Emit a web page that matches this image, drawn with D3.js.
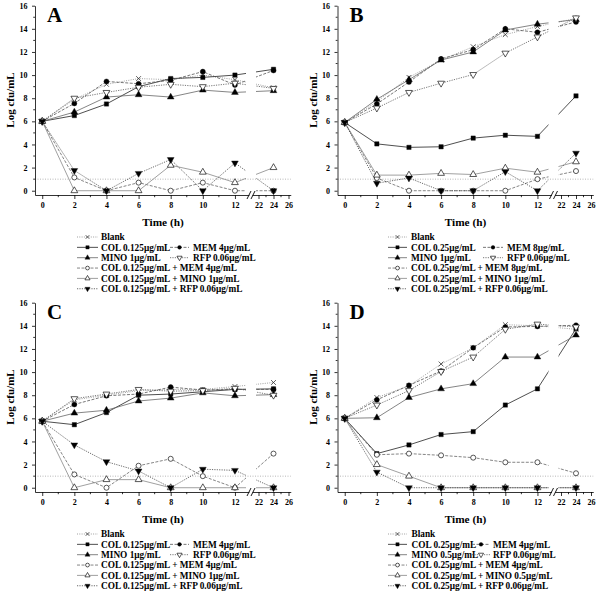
<!DOCTYPE html>
<html><head><meta charset="utf-8">
<script src="https://cdn.jsdelivr.net/npm/d3@7"></script>
<style>
body{margin:0;background:#fff}
svg{display:block}
text{font-family:"Liberation Serif","Times New Roman",serif;font-weight:bold;fill:#000}
</style>
</head><body>
<svg id="c" width="600" height="598"></svg>
<script>
// ---------- DATA ----------
const times = [0, 2, 4, 6, 8, 10, 12, 24];
const xTickValues = [0, 2, 4, 6, 8, 10, 12, 22, 24, 26];
const xMinorValues = [1, 3, 5, 7, 9, 11, 23, 25];
const yTickValues = [0, 2, 4, 6, 8, 10, 12, 14, 16];
const yMinorValues = [1, 3, 5, 7, 9, 11, 13, 15];
const detectionLimit = 1;
const seriesKeys = ["blank", "col", "mem", "mino", "rfp", "colmem", "colmino", "colrfp"];

// Panel A
const aBlank   = [6, 7.9, 9.2, 9.7, 9.6, 10.0, 9.6, 8.9];
const aCol     = [6, 6.5, 7.5, 9.0, 9.7, 9.8, 10.0, 10.5];
const aMem     = [6, 7.55, 9.45, 9.25, 9.55, 10.3, 9.15, 10.4];
const aMino    = [6, 6.8, 8.1, 8.3, 8.1, 8.7, 8.5, 8.65];
const aRfp     = [6, 8.0, 8.5, 8.95, 9.2, 9.0, 9.3, 8.85];
const aColMem  = [6, 1.15, 0, 0.7, 0, 0.7, 0, 0];
const aColMino = [6, 0, 0, 0, 2.2, 1.6, 0.7, 2.0];
const aColRfp  = [6, 1.75, 0, 1.5, 2.7, 0, 2.4, 0];
const aLabels = ["Blank", "COL 0.125μg/mL", "MEM 4μg/mL", "MINO 1μg/mL", "RFP 0.06μg/mL",
  "COL 0.125μg/mL + MEM 4μg/mL", "COL 0.125μg/mL + MINO 1μg/mL", "COL 0.125μg/mL + RFP 0.06μg/mL"];

// Panel B
const bBlank   = [5.9, 7.7, 9.8, 11.3, 12.45, 13.5, 14.2, 14.9];
const bCol     = [5.9, 4.05, 3.75, 3.8, 4.55, 4.8, 4.7, 8.2];
const bMem     = [5.9, 7.5, 9.4, 11.4, 12.2, 14.0, 13.7, 14.6];
const bMino    = [5.9, 7.9, 9.6, 11.3, 12.0, 13.9, 14.4, 14.8];
const bRfp     = [5.9, 7.15, 8.5, 9.3, 10.05, 11.9, 13.3, 14.95];
const bColMem  = [5.9, 1.1, 0, 0, 0, 0, 1.0, 1.7];
const bColMino = [5.9, 1.35, 1.35, 1.5, 1.4, 1.95, 1.6, 2.5];
const bColRfp  = [5.9, 0.65, 1.1, 0, 0, 1.65, 0, 3.25];
const bLabels = ["Blank", "COL 0.25μg/mL", "MEM 8μg/mL", "MINO 1μg/mL", "RFP 0.06μg/mL",
  "COL 0.25μg/mL + MEM 8μg/mL", "COL 0.25μg/mL + MINO 1μg/mL", "COL 0.25μg/mL + RFP 0.06μg/mL"];

// Panel C
const cBlank   = [5.75, 7.6, 8.0, 8.4, 8.5, 8.5, 8.75, 9.1];
const cCol     = [5.75, 5.45, 6.5, 8.0, 8.1, 8.3, 8.5, 8.55];
const cMem     = [5.75, 7.2, 7.95, 8.1, 8.7, 8.45, 8.5, 8.5];
const cMino    = [5.75, 6.45, 6.7, 7.5, 7.75, 8.2, 7.95, 8.05];
const cRfp     = [5.75, 7.7, 8.1, 8.5, 8.35, 8.4, 8.6, 8.0];
const cColMem  = [5.75, 1.15, 0, 1.9, 2.5, 1.0, 0, 2.95];
const cColMino = [5.75, 0, 0.7, 0.7, 0, 0, 0, 0];
const cColRfp  = [5.75, 3.7, 2.25, 1.45, 0, 1.6, 1.5, 0];
const cLabels = aLabels;

// Panel D
const dBlank   = [6, 7.8, 8.8, 10.7, 12.1, 14.1, 14.0, 13.7];
const dCol     = [6, 2.95, 3.7, 4.6, 4.85, 7.15, 8.55, 13.75];
const dMem     = [6, 7.6, 8.85, 10.1, 12.1, 13.9, 13.95, 14.05];
const dMino    = [6, 6.05, 7.8, 8.55, 9.0, 11.3, 11.3, 13.2];
const dRfp     = [6, 7.15, 8.4, 10.05, 11.3, 13.7, 14.15, 13.9];
const dColMem  = [6, 2.85, 2.95, 2.8, 2.6, 2.2, 2.2, 1.25];
const dColMino = [6, 2.0, 1.0, 0, 0, 0, 0, 0];
const dColRfp  = [6, 1.35, 0, 0, 0, 0, 0, 0];
const dLabels = ["Blank", "COL 0.25μg/mL", "MEM 4μg/mL", "MINO 0.5μg/mL", "RFP 0.06μg/mL",
  "COL 0.25μg/mL + MEM 4μg/mL", "COL 0.25μg/mL + MINO 0.5μg/mL", "COL 0.25μg/mL + RFP 0.06μg/mL"];

// ---------- STYLE ----------
const styles = {
  blank:   {dash: "1,1.3",   color: "#888", marker: "x",     fill: "none"},
  col:     {dash: null,      color: "#222", marker: "square", fill: "#000"},
  mem:     {dash: "3,1.5",   color: "#555", marker: "circle", fill: "#000"},
  mino:    {dash: null,      color: "#666", marker: "tri",    fill: "#000"},
  rfp:     {dash: "1.2,1.2", color: "#555", marker: "tridown",fill: "#fff"},
  colmem:  {dash: "3,1.5",   color: "#666", marker: "circle", fill: "#fff"},
  colmino: {dash: null,      color: "#888", marker: "tri",    fill: "#fff"},
  colrfp:  {dash: "1.2,1.2", color: "#444", marker: "tridown",fill: "#000"}
};

const panels = [
  {id: "A", ox: 0, oy: 0, series: [aBlank, aCol, aMem, aMino, aRfp, aColMem, aColMino, aColRfp], labels: aLabels,
   leg: {s1: [77, 98], t1: 101, s2: [170, 189], t2: 193}},
  {id: "B", ox: 302.5, oy: 0, series: [bBlank, bCol, bMem, bMino, bRfp, bColMem, bColMino, bColRfp], labels: bLabels,
   leg: {s1: [388, 407], t1: 411, s2: [483, 503], t2: 507}},
  {id: "C", ox: 0, oy: 297, series: [cBlank, cCol, cMem, cMino, cRfp, cColMem, cColMino, cColRfp], labels: cLabels,
   leg: {s1: [77, 98], t1: 101, s2: [170, 189], t2: 193}},
  {id: "D", ox: 302.5, oy: 297, series: [dBlank, dCol, dMem, dMino, dRfp, dColMem, dColMino, dColRfp], labels: dLabels,
   leg: {s1: [388, 407], t1: 411.5, s2: [472, 490], t2: 493}}
];

const svg = d3.select("#c");
const breakX = 251; // break position (local)

function drawMarker(g, type, cx, cy, fill, scale) {
  scale = scale || 1;
  const stroke = "#111";
  if (type === "x") {
    const r = 2.4 * scale;
    g.append("path").attr("d", `M${cx-r},${cy-r}L${cx+r},${cy+r}M${cx-r},${cy+r}L${cx+r},${cy-r}`)
      .attr("stroke", "#333").attr("stroke-width", 0.8).attr("fill", "none");
    return;
  }
  let sym, rot = 0, size;
  if (type === "square") { sym = d3.symbolSquare; size = 19 * scale * scale; }
  else if (type === "circle") { sym = d3.symbolCircle; size = 20 * scale * scale; }
  else if (type === "tri") { sym = d3.symbolTriangle; size = 20 * scale * scale; }
  else { sym = d3.symbolTriangle; size = 20 * scale * scale; rot = 180; }
  g.append("path").attr("d", d3.symbol().type(sym).size(size)())
    .attr("transform", `translate(${cx},${cy}) rotate(${rot})`)
    .attr("fill", fill).attr("stroke", stroke).attr("stroke-width", fill === "#fff" ? 0.7 : 0.4);
}

panels.forEach((p, pi) => {
  const g = svg.append("g").attr("transform", `translate(${p.ox},${p.oy})`);
  const x = d3.scaleLinear().domain([-0.45, 13, 21, 26.3]).range([35, breakX, breakX, 290.75]);
  const y = d3.scaleLinear().domain([-0.37, 16]).range([195, 5.7]);

  // clip for break gap
  const cid = "clip" + p.id;
  const cp = svg.append("defs").append("clipPath").attr("id", cid);
  cp.append("rect").attr("x", 0).attr("y", -10).attr("width", breakX - 5).attr("height", 220);
  cp.append("rect").attr("x", breakX + 5).attr("y", -10).attr("width", 60).attr("height", 220);

  // detection limit line
  g.append("line").attr("x1", 35).attr("x2", 290.75).attr("y1", y(detectionLimit)).attr("y2", y(detectionLimit))
    .attr("stroke", "#999").attr("stroke-width", 0.7).attr("stroke-dasharray", "1,1.5");

  // series lines
  const lineGen = d3.line().x((d, i) => x(times[i])).y(d => y(d));
  const lg = g.append("g").attr("clip-path", `url(#${cid})`);
  seriesKeys.forEach((k, si) => {
    const st = styles[k];
    lg.append("path").datum(p.series[si]).attr("d", lineGen)
      .attr("fill", "none").attr("stroke", st.color).attr("stroke-width", 0.8)
      .attr("stroke-dasharray", st.dash);
  });
  // markers
  const mg = g.append("g");
  seriesKeys.forEach((k, si) => {
    const st = styles[k];
    p.series[si].forEach((v, i) => drawMarker(mg, st.marker, x(times[i]), y(v), st.fill));
  });

  // axes
  const xAxis = d3.axisBottom(x).tickValues(xTickValues).tickSize(4).tickPadding(3).tickSizeOuter(0);
  const xa = g.append("g").attr("transform", "translate(0,195)").call(xAxis);
  xa.selectAll("text").attr("font-size", 8);
  xa.selectAll("path,line").attr("stroke", "#000").attr("stroke-width", 0.8);
  xMinorValues.forEach(t => xa.append("line").attr("x1", x(t)).attr("x2", x(t)).attr("y1", 0).attr("y2", 2.2)
    .attr("stroke", "#000").attr("stroke-width", 0.8));
  // break marks
  xa.append("rect").attr("x", breakX - 1.6).attr("y", -1.5).attr("width", 3.2).attr("height", 3).attr("fill", "#fff");
  xa.append("path").attr("d", `M${breakX-4},4L${breakX},-4M${breakX},4L${breakX+4},-4`)
    .attr("stroke", "#000").attr("stroke-width", 0.9).attr("fill", "none");

  const yAxis = d3.axisLeft(y).tickValues(yTickValues).tickSize(3).tickPadding(4.5).tickSizeOuter(0);
  const ya = g.append("g").attr("transform", "translate(35,0)").call(yAxis);
  ya.selectAll("text").attr("font-size", 8);
  ya.selectAll("path,line").attr("stroke", "#000").attr("stroke-width", 0.8);
  yMinorValues.forEach(v => ya.append("line").attr("x1", 0).attr("x2", -1.8).attr("y1", y(v)).attr("y2", y(v))
    .attr("stroke", "#000").attr("stroke-width", 0.8));

  // labels
  g.append("text").attr("transform", "translate(14,100) rotate(-90)").attr("text-anchor", "middle")
    .attr("font-size", 11).text("Log cfu/mL");
  g.append("text").attr("x", 163).attr("y", 226).attr("text-anchor", "middle").attr("font-size", 11.3).text("Time (h)");
  g.append("text").attr("x", 47).attr("y", 21.5).attr("font-size", 21).text(p.id);

  // legend (absolute x)
  const leg = svg.append("g").attr("transform", `translate(0,${p.oy})`);
  const rows = [[0, 0], [1, 0], [1, 1], [2, 0], [2, 1], [3, 0], [4, 0], [5, 0]];
  seriesKeys.forEach((k, si) => {
    const [r, c] = rows[si];
    const yy = 237 + r * 10.35;
    const s = c === 0 ? p.leg.s1 : p.leg.s2;
    const tx = c === 0 ? p.leg.t1 : p.leg.t2;
    const st = styles[k];
    leg.append("line").attr("x1", s[0]).attr("x2", s[1]).attr("y1", yy).attr("y2", yy)
      .attr("stroke", st.color).attr("stroke-width", 0.8).attr("stroke-dasharray", st.dash);
    drawMarker(leg, st.marker, (s[0] + s[1]) / 2, yy, st.fill, 0.75);
    leg.append("text").attr("x", tx).attr("y", yy).attr("dy", "0.35em").attr("font-size", 9.3).text(p.labels[si]);
  });
});
</script>
</body></html>
